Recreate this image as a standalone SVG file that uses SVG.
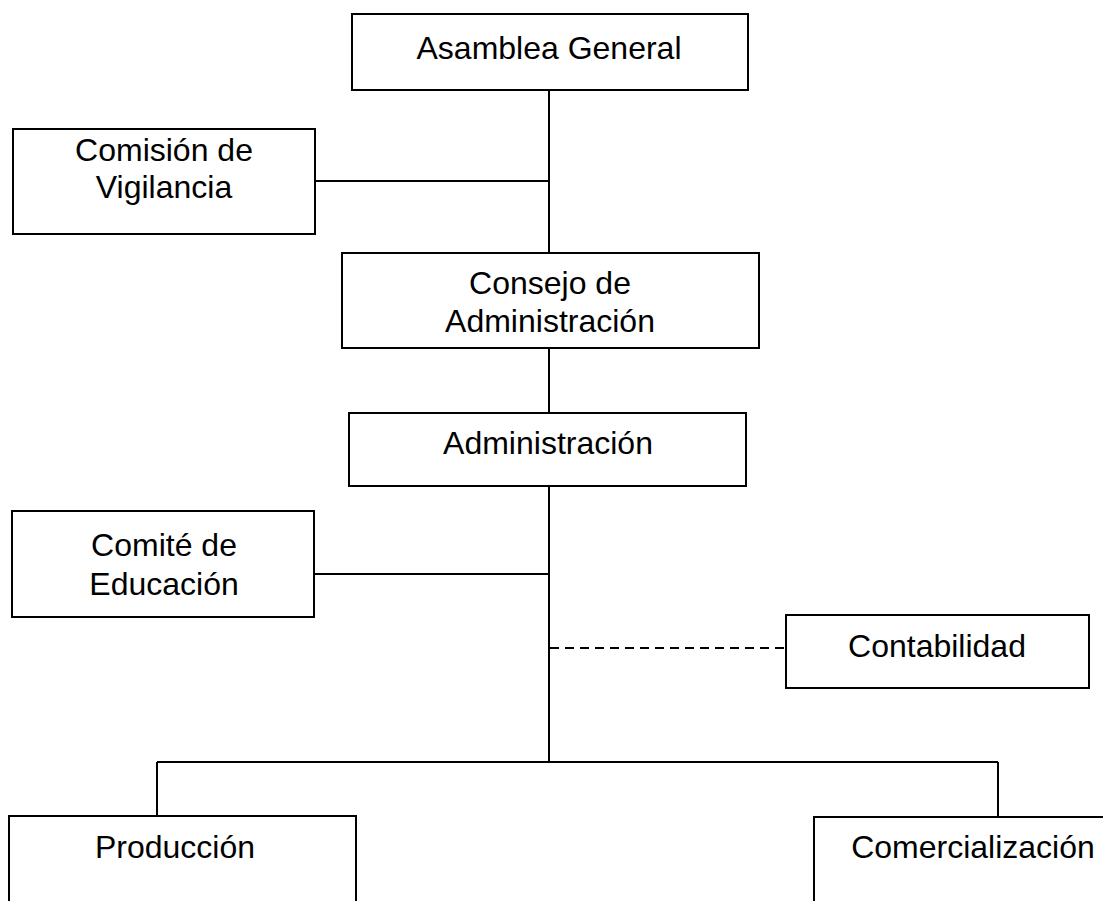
<svg xmlns="http://www.w3.org/2000/svg" width="1103" height="901" viewBox="0 0 1103 901">
<style>
.box{fill:#fff;stroke:#000;stroke-width:2}
.lbl{font-family:"Liberation Sans",Arial,sans-serif;font-size:32px;fill:#000;text-anchor:middle}
.ln{stroke:#000;stroke-width:2;fill:none}
.dash{stroke:#000;stroke-width:2;fill:none;stroke-dasharray:9 6}
</style>
<rect width="1103" height="901" fill="#fff"/>
<g id="connectors">
<line class="ln" x1="549" y1="90" x2="549" y2="253"/>
<line class="ln" x1="315" y1="181" x2="549" y2="181"/>
<line class="ln" x1="549" y1="348" x2="549" y2="413"/>
<line class="ln" x1="549" y1="486" x2="549" y2="762"/>
<line class="ln" x1="314" y1="574" x2="549" y2="574"/>
<line class="dash" x1="550" y1="648" x2="786" y2="648"/>
<line class="ln" x1="157" y1="762" x2="998" y2="762"/>
<line class="ln" x1="157" y1="762" x2="157" y2="816"/>
<line class="ln" x1="998" y1="762" x2="998" y2="817"/>
</g>
<g id="asamblea">
<rect class="box" x="352" y="14" width="396" height="76"/>
<text class="lbl" x="549" y="59">Asamblea General</text>
</g>
<g id="comision">
<rect class="box" x="13" y="129" width="302" height="105"/>
<text class="lbl" x="164" y="161">Comisión de</text>
<text class="lbl" x="164" y="198">Vigilancia</text>
</g>
<g id="consejo">
<rect class="box" x="342" y="253" width="417" height="95"/>
<text class="lbl" x="550" y="294">Consejo de</text>
<text class="lbl" x="550" y="332">Administración</text>
</g>
<g id="administracion">
<rect class="box" x="349" y="413" width="397" height="73"/>
<text class="lbl" x="548" y="454">Administración</text>
</g>
<g id="comite">
<rect class="box" x="12" y="511" width="302" height="106"/>
<text class="lbl" x="164" y="556">Comité de</text>
<text class="lbl" x="164" y="595">Educación</text>
</g>
<g id="contabilidad">
<rect class="box" x="786" y="615" width="303" height="73"/>
<text class="lbl" x="937" y="657">Contabilidad</text>
</g>
<g id="produccion">
<rect class="box" x="9" y="816" width="347" height="100"/>
<text class="lbl" x="175" y="858">Producción</text>
</g>
<g id="comercializacion">
<rect class="box" x="814" y="817" width="300" height="100"/>
<text class="lbl" x="973" y="858">Comercialización</text>
</g>
</svg>
